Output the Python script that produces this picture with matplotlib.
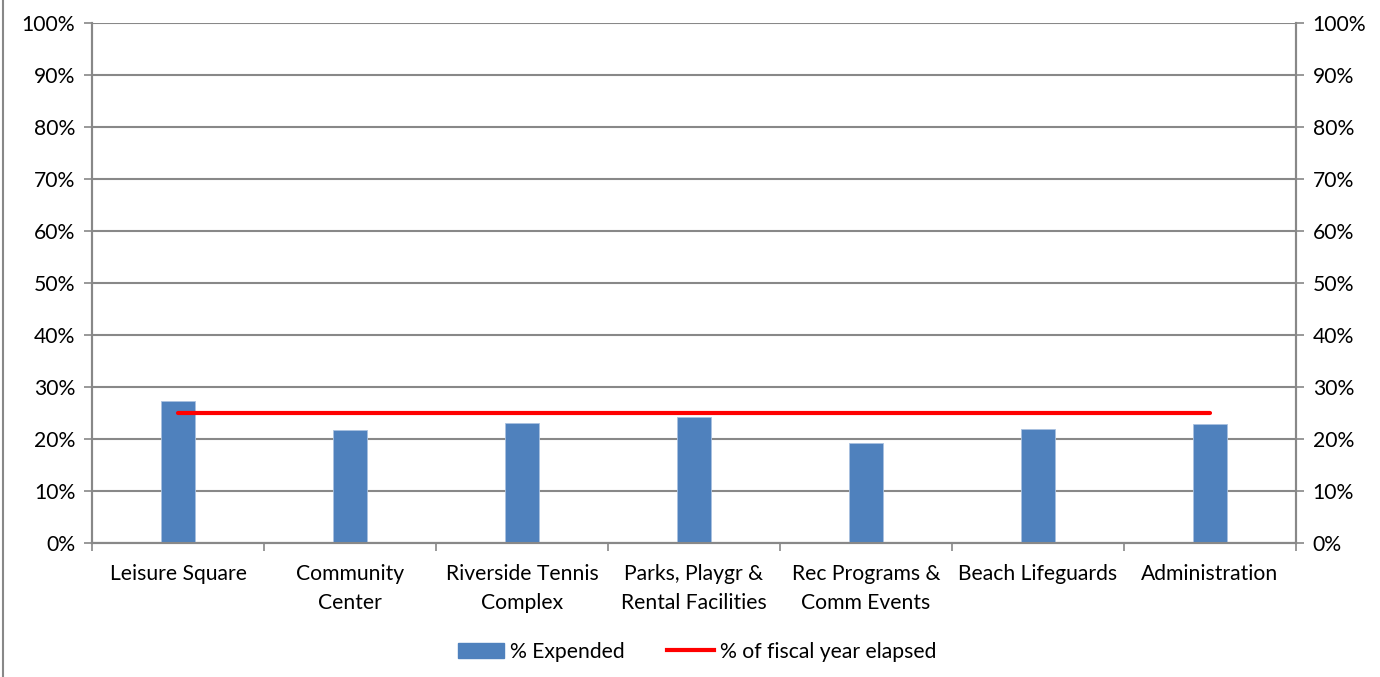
import matplotlib
matplotlib.use("Agg")
import matplotlib.pyplot as plt
from matplotlib.ticker import FuncFormatter, FixedLocator
from matplotlib.patches import Patch
from matplotlib.lines import Line2D
import numpy as np

plt.rcParams['font.family'] = ['Lato', 'DejaVu Sans']

categories = ["Leisure Square", "Community\nCenter", "Riverside Tennis\nComplex",
              "Parks, Playgr &\nRental Facilities", "Rec Programs &\nComm Events",
              "Beach Lifeguards", "Administration"]
pct_expended = [27.3, 21.7, 23.1, 24.3, 19.3, 21.9, 22.9]
fiscal_elapsed = [25, 25, 25, 25, 25, 25, 25]
y_ticks = [0, 10, 20, 30, 40, 50, 60, 70, 80, 90, 100]

bar_color = "#4F81BD"
line_color = "#FF0000"
axis_gray = "#888888"
fs = 15.2

fig = plt.figure(figsize=(13.8, 6.77), dpi=100)
ax = fig.add_axes([92/1380, 1 - 543/677, (1296-92)/1380, (543-23)/677])

x = np.arange(len(categories))
ax.bar(x, pct_expended, width=0.2, color=bar_color, edgecolor="#A9C1E0",
       linewidth=0.6, zorder=3)

ax.set_xlim(-0.5, len(categories) - 0.5)
ax.set_ylim(0, 100)
ax.yaxis.set_major_locator(FixedLocator(y_ticks))
ax.yaxis.set_major_formatter(FuncFormatter(lambda v, p: f"{v:.0f}%"))
ax.grid(axis="y", color=axis_gray, linewidth=1.5, zorder=0)
ax.set_axisbelow(True)

# category labels centered, tick marks on category boundaries
ax.set_xticks(x)
ax.set_xticklabels(categories, fontsize=fs, linespacing=1.55)
ax.tick_params(axis="x", which="major", length=0, pad=15)
ax.set_xticks(np.arange(-0.5, len(categories)), minor=True)
ax.tick_params(axis="x", which="minor", length=6, width=1.2, color=axis_gray)
ax.tick_params(axis="y", length=6, width=1.2, color=axis_gray, labelsize=fs, pad=6)

ax.spines["top"].set_visible(False)
for s in ["left", "bottom", "right"]:
    ax.spines[s].set_color(axis_gray)
    ax.spines[s].set_linewidth(1.5)

ax2 = ax.twinx()
ax2.set_ylim(0, 100)
ax2.yaxis.set_major_locator(FixedLocator(y_ticks))
ax2.yaxis.set_major_formatter(FuncFormatter(lambda v, p: f"{v:.0f}%"))
ax2.tick_params(axis="y", length=6, width=1.2, color=axis_gray, labelsize=fs, pad=6)
ax2.spines["top"].set_visible(False)
for s in ["left", "bottom", "right"]:
    ax2.spines[s].set_color(axis_gray)
    ax2.spines[s].set_linewidth(1.5)
ax2.plot(x, fiscal_elapsed, color=line_color, linewidth=3, solid_capstyle="round", zorder=4)

handles = [Patch(facecolor=bar_color, edgecolor=bar_color, label="% Expended"),
           Line2D([0], [0], color=line_color, linewidth=3, label="% of fiscal year elapsed")]
fig.legend(handles=handles, loc="center", bbox_to_anchor=(697/1380, 1 - 652/677),
           ncol=2, frameon=False, fontsize=fs, handlelength=2.2, handleheight=0.75,
           columnspacing=2.0, handletextpad=0.3)

# outer chart frame at the left edge
fig.add_artist(Line2D([3/1380, 3/1380], [0, 1], color=axis_gray, linewidth=1.5,
                      transform=fig.transFigure))

fig.savefig("out.png", dpi=100, facecolor="white")
